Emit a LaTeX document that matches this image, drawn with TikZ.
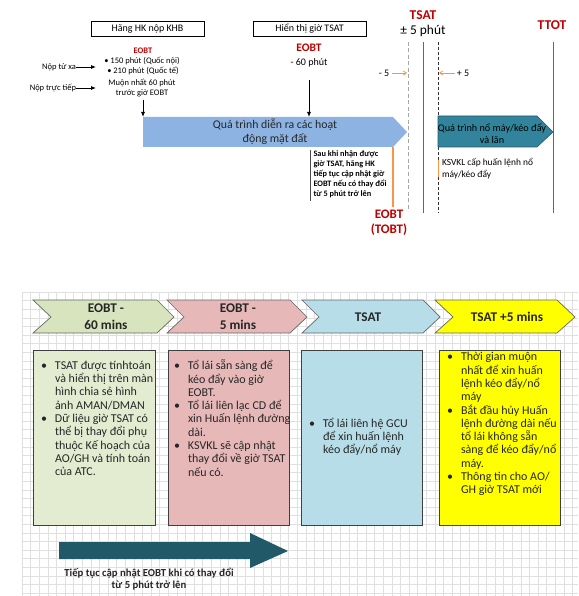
\documentclass[tikz,border=0pt]{standalone}
\usepackage{fontspec}
\setmainfont{Carlito}
\usetikzlibrary{arrows.meta}
\definecolor{redt}{HTML}{C00000}
\definecolor{redl}{HTML}{D03A3A}
\definecolor{ltblue}{HTML}{8DB3E2}
\definecolor{teal1}{HTML}{31849B}
\definecolor{teal2}{HTML}{215968}
\definecolor{orng}{HTML}{F79646}
\definecolor{gridc}{HTML}{E0E0E0}
\definecolor{cgreen}{HTML}{D7E4BD}
\definecolor{cpink}{HTML}{E6B9B8}
\definecolor{cblue}{HTML}{B7DEE8}
\definecolor{cyell}{HTML}{FFFF00}
\definecolor{txt}{HTML}{262626}
\tikzset{
  gridline/.style={draw=gridc, line width=0.5pt},
  topbox/.style={draw=black, line width=0.7pt, minimum height=15pt, font=\fontsize{10}{11}\selectfont},
  redlbl/.style={text=redt, font=\fontsize{13.5}{15}\selectfont\bfseries},
  small/.style={font=\fontsize{8.5}{10}\selectfont},
  blkarrow/.style={-{Latex[length=5pt,width=4pt]}, line width=0.8pt},
  orarrow/.style={-{Straight Barb[length=3pt,width=4pt]}, draw=orng, line width=0.8pt},
  chev/.style={draw=gray!80!black, line width=0.7pt},
  chevtxt/.style={font=\fontsize{13.3}{17}\selectfont\bfseries, text=txt, align=center},
  infobox/.style={draw=black!75, line width=0.8pt},
  boxtxt/.style={font=\fontsize{12}{13.3}\selectfont, text=txt, align=left, anchor=north west},
}
\newcommand{\bul}{\llap{\textbullet\hspace{8pt}}}
\begin{document}
\begin{tikzpicture}[x=1pt,y=-1pt, every node/.style={inner sep=0pt, outer sep=0pt}]
\useasboundingbox (0,0) rectangle (578,596);
\fill[white] (0,0) rectangle (578,596);
% grid
\foreach \i in {0,...,64} \draw[gridline] (22+\i*8.6,292) -- (22+\i*8.6,596);
\foreach \j in {0,...,35} \draw[gridline] (22,292+\j*8.6) -- (578,292+\j*8.6);

% ---------- top part ----------
\node[topbox, minimum width=113pt] (khb) at (147.5,28.5) {Hãng HK nộp KHB};
\node[topbox, minimum width=113pt] (tsatbox) at (309.5,28.5) {Hiển thị giờ TSAT};

\node[text=redt, font=\fontsize{8.5}{10}\selectfont\bfseries] (eobtA) at (143,51) {EOBT};
\node[small] (l150) at (142,61) {\textbullet\ 150 phút (Quốc nội)};
\node[small] (l210) at (143,71) {\textbullet\ 210 phút (Quốc tế)};
\node[small, align=center] (muon) at (142,88) {Muộn nhất 60 phút\\trước giờ EOBT};
\node[small, anchor=east] (nopxa) at (76,67) {Nộp từ xa};
\node[small, anchor=east] (noptt) at (76,88) {Nộp trực tiếp};
\coordinate (nxe) at (96,67);
\coordinate (ntte) at (96,88);
\draw[blkarrow] (nopxa.east) -- (nxe);
\draw[blkarrow] (noptt.east) -- (ntte);

% ground process arrow
\fill[ltblue] (143,117) -- (393,117) -- (407,132) -- (393,147) -- (143,147) -- cycle;
\coordinate (gtop1) at (143,117);
\coordinate (gtop2) at (309,117);
\coordinate (muons) at (143,100);
\node[font=\fontsize{11.8}{14}\selectfont, text=txt, align=center] (ground) at (275,132) {Quá trình diễn ra các hoạt\\động mặt đất};
\draw[blkarrow] (muons) -- (gtop1);

\node[text=redt, font=\fontsize{11.5}{13}\selectfont\bfseries] (eobtB) at (309,48) {EOBT};
\node[font=\fontsize{10}{11}\selectfont] (m60) at (309,63) {- 60 phút};
\coordinate (m60s) at (309,80);
\draw[blkarrow] (m60s) -- (gtop2);

% note after TSAT
\draw[black!70, line width=0.6pt] (310,150) -- (310,201);
\node[anchor=north west, align=left, font=\fontsize{8.3}{10}\selectfont\bfseries] (note) at (313.5,151)
 {Sau khi nhận được\\giờ TSAT, hãng HK\\tiếp tục cập nhật giờ\\EOBT nếu có thay đổi\\từ 5 phút trở lên};
\draw[orng, line width=1.3pt] (393,147) -- (393,207);
\node[redlbl, align=center, font=\fontsize{13}{15}\selectfont\bfseries] (tobt) at (389,222.5) {EOBT\\(TOBT)};

% vertical time lines
\draw[gray!70, dashed, line width=1pt, dash pattern=on 4pt off 2.5pt] (408,42) -- (408,211);
\draw[redl, line width=1pt] (423,42) -- (423,213);
\draw[black!80, dashed, line width=0.6pt, dash pattern=on 3pt off 2pt] (438,42) -- (438,213);
\draw[redl, line width=1pt] (553,42) -- (553,213);

\node[redlbl] (tsat) at (423,15) {TSAT};
\node[font=\fontsize{13.4}{15}\selectfont] (pm5) at (423,31) {± 5 phút};
\node[redlbl] (ttot) at (552,25) {TTOT};

\node[font=\fontsize{10}{11}\selectfont] (mn5) at (384,73) {- 5};
\node[font=\fontsize{10}{11}\selectfont] (pl5) at (463,73) {+ 5};
\coordinate (mn5s) at (392,73);
\coordinate (mn5e) at (407,73);
\coordinate (pl5s) at (455,73);
\coordinate (pl5e) at (439,73);
\draw[orarrow] (mn5s) -- (mn5e);
\draw[orarrow] (pl5s) -- (pl5e);

% start/taxi arrow
\filldraw[fill=teal1, draw=teal2, line width=0.6pt] (438,116) -- (537,116) -- (553,132) -- (537,147) -- (438,147) -- cycle;
\node[font=\fontsize{10.2}{12}\selectfont, align=center] (startup) at (492,134) {Quá trình nổ máy/kéo đẩy\\và lăn};
\draw[orng, line width=1pt] (438,160) -- (438,177);
\node[anchor=north west, align=left, font=\fontsize{9.4}{12.5}\selectfont] (ksvkl) at (442,158) {KSVKL cấp huấn lệnh nổ\\máy/kéo đẩy};

% ---------- bottom part ----------
\filldraw[chev, fill=cgreen] (33,300) -- (157,300) -- (174,317) -- (157,333) -- (33,333) -- (51,317) -- cycle;
\filldraw[chev, fill=cpink] (167,300) -- (290,300) -- (307,317) -- (290,333) -- (167,333) -- (184,317) -- cycle;
\filldraw[chev, fill=cblue] (302,300) -- (423,300) -- (440,317) -- (423,333) -- (302,333) -- (319,317) -- cycle;
\filldraw[chev, fill=cyell] (435,300) -- (557,300) -- (575,317) -- (557,333) -- (435,333) -- (453,317) -- cycle;
\node[chevtxt] (c1) at (106,317) {EOBT -\\60 mins};
\node[chevtxt] (c2) at (238,317) {EOBT -\\5 mins};
\node[chevtxt] (c3) at (368,317) {TSAT};
\node[chevtxt] (c4) at (507,317) {TSAT +5 mins};

\filldraw[infobox, fill=cgreen!70!white] (33,350) rectangle (155,525);
\filldraw[infobox, fill=cpink] (168,350) rectangle (289,525);
\filldraw[infobox, fill=cblue] (301,350) rectangle (422,525);
\filldraw[infobox, fill=cyell] (439,350) rectangle (560,525);

\node[boxtxt] (t1) at (55,361) {\bul TSAT được tínhtoán\\và hiển thị trên màn\\hình chia sẻ hình\\ảnh AMAN/DMAN\\\bul Dữ liệu giờ TSAT có\\thể bị thay đổi phụ\\thuộc Kế hoạch của\\AO/GH và tính toán\\của ATC.};
\node[boxtxt] (t2) at (188,360) {\bul Tổ lái sẵn sàng để\\kéo đẩy vào giờ\\EOBT.\\\bul Tổ lái liên lạc CD để\\xin Huấn lệnh đường\\dài.\\\bul KSVKL sẽ cập nhật\\thay đổi về giờ TSAT\\nếu có.};
\node[boxtxt] (t3) at (323,418) {\bul Tổ lái liên hệ GCU\\để xin huấn lệnh\\kéo đẩy/nổ máy};
\node[boxtxt] (t4) at (461,352.5) {\bul Thời gian muộn\\nhất để xin huấn\\lệnh kéo đẩy/nổ\\máy\\\bul Bắt đầu hủy Huấn\\lệnh đường dài nếu\\tổ lái không sẵn\\sàng để kéo đẩy/nổ\\máy.\\\bul Thông tin cho AO/\\GH giờ TSAT mới};

\fill[teal2] (59,542) -- (250,542) -- (250,533) -- (288,551) -- (250,568) -- (250,559) -- (59,559) -- cycle;
\node[font=\fontsize{10.7}{12.5}\selectfont\bfseries, text=txt, align=center] (upd) at (149,579) {Tiếp tục cập nhật EOBT khi có thay đổi\\từ 5 phút trở lên};
\end{tikzpicture}
\end{document}
